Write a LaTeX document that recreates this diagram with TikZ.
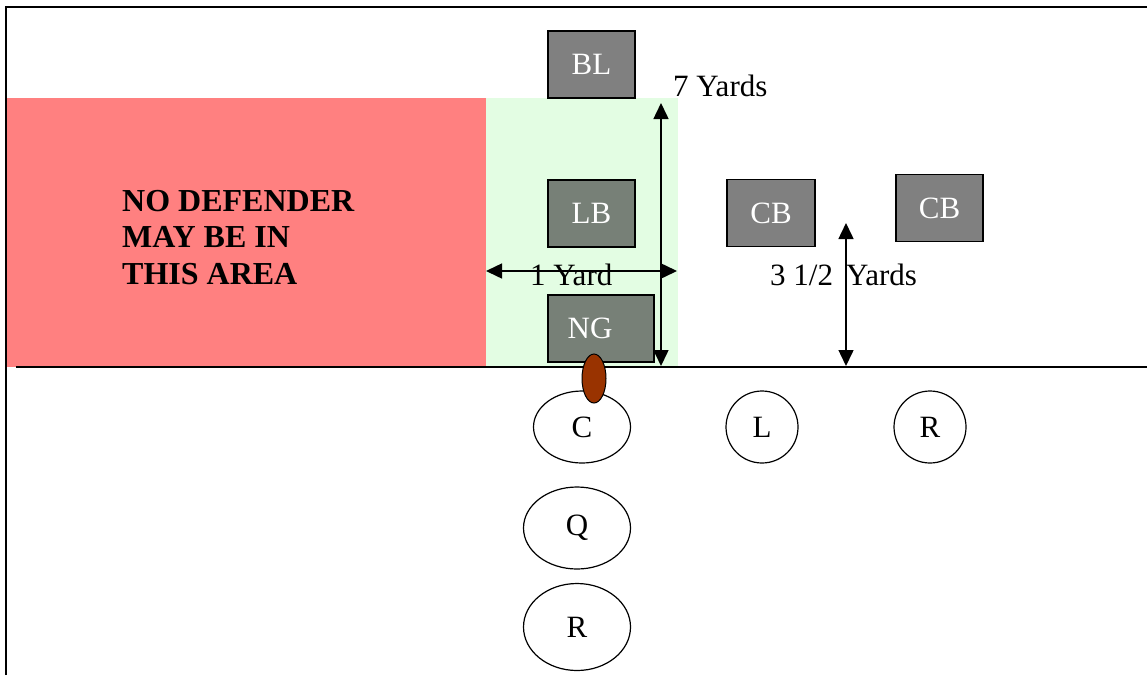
\documentclass[tikz,border=0pt]{standalone}
\usepackage{fontspec}
\setmainfont{Liberation Serif}
\usetikzlibrary{arrows.meta,shapes.geometric}
\definecolor{nozone}{RGB}{255,128,128}
\definecolor{onezone}{RGB}{227,253,227}
\definecolor{dgray}{RGB}{128,128,128}
\definecolor{ggray}{RGB}{119,128,119}
\definecolor{ballbrown}{RGB}{153,51,0}
\tikzset{
  defbox/.style={draw=black, line width=1.2pt, inner sep=0pt, minimum height=67pt,
    text=white, font=\fontsize{31}{36}\selectfont},
  offplayer/.style={draw=black, line width=1.2pt, ellipse, inner sep=0pt, fill=white,
    font=\fontsize{31}{36}\selectfont},
  yardlbl/.style={anchor=base west, inner sep=0pt, font=\fontsize{31}{36}\selectfont},
  warnlbl/.style={anchor=base west, inner sep=0pt, font=\bfseries\fontsize{32}{36}\selectfont},
  dimline/.style={line width=1.5pt, {Triangle[length=16pt,width=15pt]}-{Triangle[length=16pt,width=15pt]}},
}
\begin{document}
\begin{tikzpicture}[x=1pt,y=-1pt]
\useasboundingbox (0,0) rectangle (1147,675);
% zones
\fill[nozone] (6,98) rectangle (486,367);
\fill[onezone] (486,98) rectangle (678,367);
% warning text
\node[warnlbl] (w1) at (122,211) {NO DEFENDER};
\node[warnlbl] (w2) at (122,247) {MAY BE IN};
\node[warnlbl] (w3) at (122,284) {THIS AREA};
% yard labels
\node[yardlbl] (y7) at (673,96) {7 Yards};
\node[yardlbl] (y1) at (530,285) {1 Yard};
\node[yardlbl] (y35) at (770,285) {3 1/2\hspace{13pt}Yards};
% border and line of scrimmage
\draw[line width=1.3pt] (6,675) |- (1147,7);
\coordinate (los0) at (16,367);
\coordinate (los1) at (1147,367);
\draw[line width=1.5pt] (los0) -- (los1);
% defenders
\node[defbox, fill=dgray, minimum width=87pt] (bl) at (591.5,64.5) {BL};
\node[defbox, fill=ggray, minimum width=87pt] (lb) at (591.5,213.5) {LB};
\node[defbox, fill=ggray, minimum width=106pt] (ng) at (601,328.5) {NG\rule{22pt}{0pt}};
\node[defbox, fill=dgray, minimum width=88pt] (cb1) at (771,213) {CB};
\node[defbox, fill=dgray, minimum width=87pt] (cb2) at (939.5,208) {CB};
% dimension arrows
\coordinate (t7) at (661,103);
\coordinate (b7) at (661,366);
\draw[dimline] (t7) -- (b7);
\coordinate (l1) at (486,271);
\coordinate (r1) at (677,271);
\draw[dimline] (l1) -- (r1);
\coordinate (t35) at (846,223);
\coordinate (b35) at (846,366);
\draw[dimline] (t35) -- (b35);
% offense
\node[offplayer, minimum width=97pt, minimum height=72pt] (c) at (582,427) {\raisebox{-4pt}{C}};
\node[offplayer, minimum width=72pt, minimum height=72pt] (l) at (762,427) {\raisebox{-4pt}{L}};
\node[offplayer, minimum width=72pt, minimum height=72pt] (r) at (930,427) {\raisebox{-4pt}{R}};
\node[offplayer, minimum width=107pt, minimum height=82pt] (q) at (577,528) {Q};
\node[offplayer, minimum width=107pt, minimum height=87pt] (rb) at (577,627) {R};
% ball
\node[draw=black, line width=1pt, fill=ballbrown, ellipse, inner sep=0pt,
  minimum width=24pt, minimum height=49pt] (ball) at (594,378.5) {};
\end{tikzpicture}
\end{document}
